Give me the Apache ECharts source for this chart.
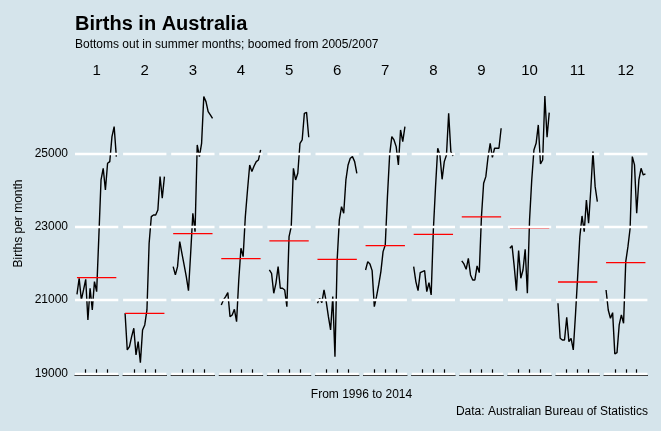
<!DOCTYPE html>
<html>
<head>
<meta charset="utf-8">
<script src="https://cdn.jsdelivr.net/npm/echarts@6/dist/echarts.min.js"></script>
<style>html,body{margin:0;padding:0;background:#d5e4eb;}#c{width:661px;height:431px;}</style>
</head>
<body>
<div id="c"></div>
<script>
const years = [1996,1997,1998,1999,2000,2001,2002,2003,2004,2005,2006,2007,2008,2009,2010,2011,2012,2013,2014];
const monthLabels = ['1','2','3','4','5','6','7','8','9','10','11','12'];
const jan = [21157,21594,21002,21275,21566,20456,21320,20729,21503,21230,22731,24278,24597,24005,24733,24779,25461,25734,24915];
const feb = [20638,19637,19728,20001,20229,19500,19865,19291,20183,20320,20729,22549,23277,23323,23323,23459,24369,23778,24369];
const mar = [21912,21685,21912,22595,22276,21958,21639,21257,22276,23368,22868,25234,24915,25279,26553,26417,26144,26053,25962];
const apr = [20866,21002,21093,21202,20547,20593,20747,20411,21548,22413,22185,23277,24005,24688,24506,24660,24779,24824,25097];
const may = [21821,21730,21184,21457,21912,21321,21321,21275,20820,22731,23004,24597,24278,24460,25279,25370,26098,26125,25443];
const jun = [20911,21048,20929,21275,20957,20547,20183,21093,19455,22094,23186,23550,23368,24278,24688,24870,24915,24779,24460];
const jul = [21821,22049,21985,21803,20820,21093,21412,21776,22322,22504,23823,24961,25461,25370,25188,24688,25643,25325,25734];
const aug = [21912,21503,21257,21748,21776,21803,21230,21475,21139,22913,24096,25143,24961,24296,24779,24961,26098,25052,24933];
const sep = [22067,21985,21839,22140,21685,21548,21548,21930,21748,23277,24187,24369,24897,25279,24897,25143,25143,25143,25689];
const oct = [22413,22485,21912,21257,22349,21594,21821,22385,21184,23186,24278,25097,25279,25780,24715,24824,26571,25443,26116];
const nov = [20911,19956,19910,19910,20529,19865,19956,19637,20593,21639,22731,23295,22868,23732,23095,24005,25052,24096,23687];
const dec = [21275,20729,20502,20656,19528,19564,20320,20593,20365,22049,22458,22959,24915,24688,23368,24278,24597,24415,24442];
const monthSeries = [jan,feb,mar,apr,may,jun,jul,aug,sep,oct,nov,dec];
const refLevels = [21612,20638,22813,22130,22613,22112,22485,22795,23268,22968,21493,22021];
const yTicks = [19000,21000,23000,25000];
const xTicks = [2000,2005,2010];

const FONT = 'Liberation Sans, Arial, sans-serif';
const chart = echarts.init(document.getElementById('c'), null, {renderer:'canvas'});

const grids = [], xAxes = [], yAxes = [], series = [], graphics = [];
const panelLeft = 75, pitch = 48.1, panelW = 43.3, panelTop = 83, panelH = 290.3;

for (let i = 0; i < 12; i++) {
  const left = panelLeft + i * pitch;
  grids.push({left: left, top: panelTop, width: panelW, height: panelH, containLabel: false});
  xAxes.push({
    type: 'value', gridIndex: i, min: 1995.1, max: 2014.9,
    offset: 2,
    axisLine: {show: true, onZero: false, lineStyle: {color: '#000', width: 1.2}},
    axisTick: {show: true, inside: true, length: 6, customValues: xTicks, lineStyle: {color: '#000', width: 1.2}},
    axisLabel: {show: false},
    splitLine: {show: false}
  });
  yAxes.push({
    type: 'value', gridIndex: i, min: 19000, max: 26925, interval: 2000,
    axisLine: {show: false}, axisTick: {show: false}, splitLine: {show: false},
    axisLabel: {show: i === 0, showMaxLabel: false, margin: 7, color: '#000', fontSize: 12, fontFamily: FONT,
      formatter: v => (yTicks.indexOf(v) >= 0 ? String(v) : '')}
  });
  series.push({
    type: 'line', xAxisIndex: i, yAxisIndex: i, data: [], z: 1, silent: true,
    markLine: {
      silent: true, symbol: ['none','none'], animation: false,
      label: {show: false},
      lineStyle: {color: '#ffffff', width: 2.3, type: 'solid'},
      emphasis: {disabled: true},
      data: yTicks.map(v => ({yAxis: v}))
    }
  });
  series.push({
    type: 'line', xAxisIndex: i, yAxisIndex: i, z: 3, silent: true,
    symbol: 'none', lineStyle: {color: '#000', width: 1.4},
    data: years.map((y, k) => [y, monthSeries[i][k]])
  });
  series.push({
    type: 'line', xAxisIndex: i, yAxisIndex: i, z: 4, silent: true,
    symbol: 'none', lineStyle: {color: '#ff0000', width: 1.3},
    data: [[years[0], refLevels[i]], [years[years.length-1], refLevels[i]]]
  });
  graphics.push({type: 'text', x: left + panelW/2, y: 71,
    style: {text: monthLabels[i], fill: '#000', font: '15px ' + FONT, textAlign: 'center', textVerticalAlign: 'middle'}});
}

graphics.push({type: 'text', x: 75, y: 24, style: {text: 'Births in Australia', fill: '#000', font: 'bold 20px ' + FONT, textAlign: 'left', textVerticalAlign: 'middle'}});
graphics.push({type: 'text', x: 75, y: 45, style: {text: 'Bottoms out in summer months; boomed from 2005/2007', fill: '#000', font: '12px ' + FONT, textAlign: 'left', textVerticalAlign: 'middle'}});
graphics.push({type: 'text', x: 18.5, y: 223.5, rotation: Math.PI / 2, style: {text: 'Births per month', fill: '#000', font: '12px ' + FONT, textAlign: 'center', textVerticalAlign: 'middle'}});
graphics.push({type: 'text', x: 361.5, y: 395, style: {text: 'From 1996 to 2014', fill: '#000', font: '12px ' + FONT, textAlign: 'center', textVerticalAlign: 'middle'}});
graphics.push({type: 'text', x: 648, y: 411.5, style: {text: 'Data: Australian Bureau of Statistics', fill: '#000', font: '12px ' + FONT, textAlign: 'right', textVerticalAlign: 'middle'}});

chart.setOption({
  backgroundColor: '#d5e4eb',
  animation: false,
  grid: grids, xAxis: xAxes, yAxis: yAxes, series: series,
  graphic: graphics
});
</script>
</body>
</html>
